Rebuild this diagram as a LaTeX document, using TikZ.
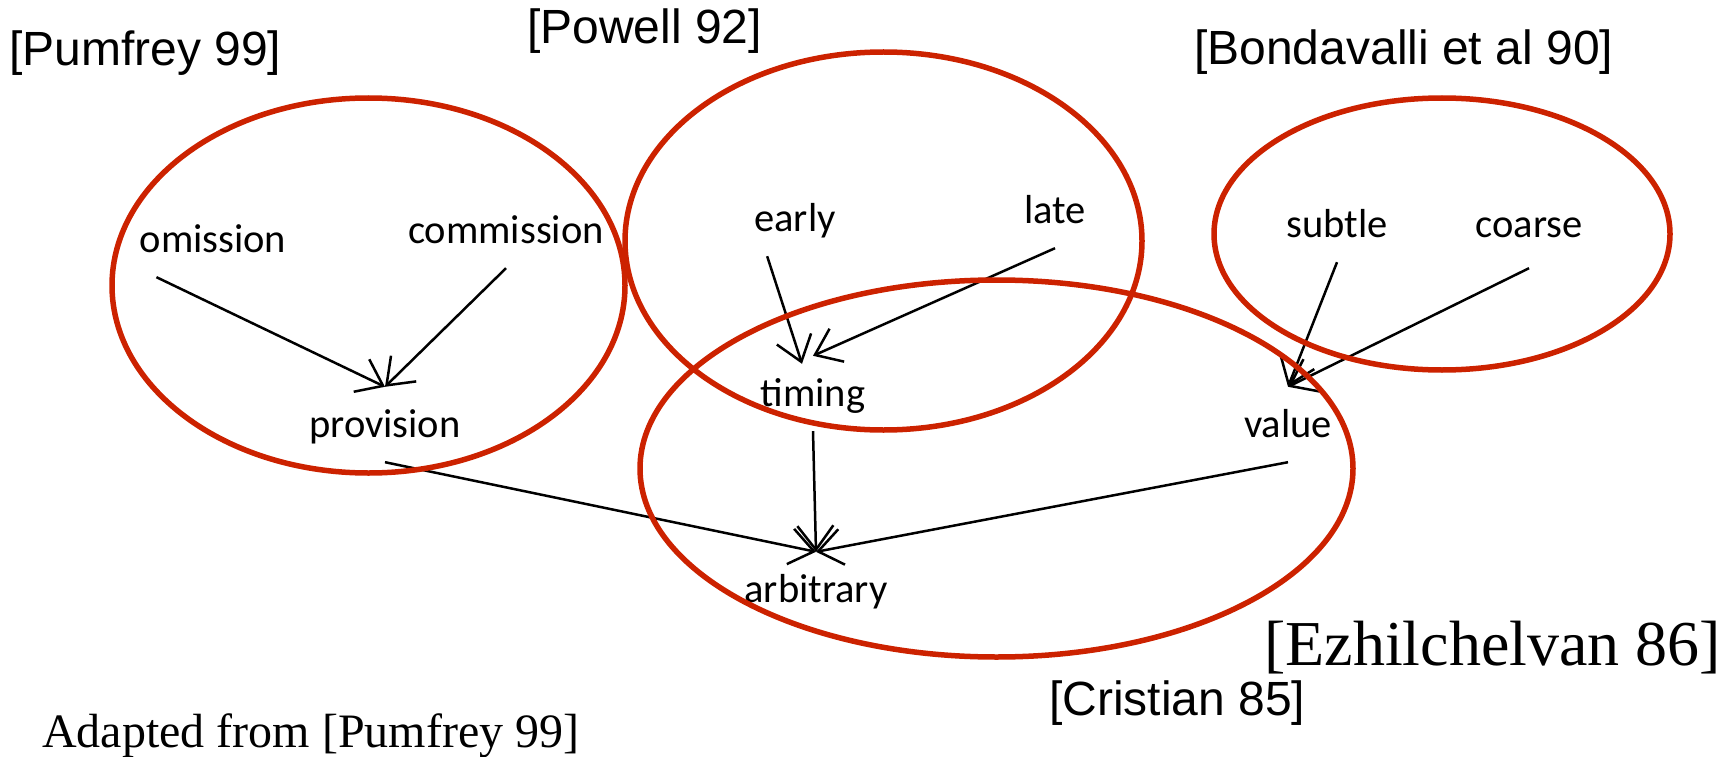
\documentclass[tikz,border=0pt]{standalone}
\usepackage{fontspec}
\usetikzlibrary{arrows.meta}
\newfontfamily\termfont{Carlito}
\newfontfamily\citefont{Liberation Sans}
\newfontfamily\notefont{Liberation Serif}
\definecolor{ringred}{RGB}{204,34,0}

\begin{document}
\begin{tikzpicture}[x=1pt,y=-1pt,
  term/.style={anchor=base,inner sep=0pt,inner ysep=15pt,text height=35pt,text depth=10pt,
    font=\termfont\fontsize{40.5}{48}\selectfont},
  cite/.style={anchor=base west,inner sep=0pt,font=\citefont\fontsize{48}{56}\selectfont},
  refines/.style={draw,line width=2.5pt,-{Straight Barb[length=24pt,width=36pt]}},
  ring/.style={draw=ringred,line width=5.5pt}]
  \useasboundingbox (0,0) rectangle (1732,757);

  %failure classes
  \node[term] (omission) at (213,252) {omission};
  \node[term] (commission) at (506,243) {commission};
  \node[term] (provision) at (385,437) {provision};
  \node[term] (early) at (795,231) {early};
  \node[term] (late) at (1055,223) {late};
  \node[term] (timing) at (813,406) {timing};
  \node[term] (subtle) at (1337,237) {subtle};
  \node[term] (coarse) at (1529,237) {coarse};
  \node[term] (value) at (1288,437) {value};
  \node[term] (arbitrary) at (816,602) {arbitrary};

  %refinement arrows
  \draw[refines] ([xshift=17pt]omission.south west) -- (provision.north);
  \draw[refines] (commission.south) -- (provision.north);
  \draw[refines] ([xshift=13pt]early.south west) -- ([xshift=-11pt,yshift=-8pt]timing.north);
  \draw[refines] (late.south) -- (timing.north);
  \draw[refines] (subtle.south) -- (value.north);
  \draw[refines] ([yshift=-6pt]coarse.south) -- (value.north);
  \draw[refines] (provision.south) -- (arbitrary.north);
  \draw[refines] (timing.south) -- (arbitrary.north);
  \draw[refines] (value.south) -- (arbitrary.north);

  %groupings
  \draw[ring] (368.5,285.5) ellipse [x radius=256.5, y radius=187.5];
  \draw[ring] (883.5,241) ellipse [x radius=258.5, y radius=189];
  \draw[ring] (1442,234) ellipse [x radius=228, y radius=136];
  \draw[ring] (996.5,468.5) ellipse [x radius=356.5, y radius=188.5];

  %citations
  \node[cite] (pumfrey) at (9,66) {[Pumfrey 99]};
  \node[cite] (powell) at (527,44) {[Powell 92]};
  \node[cite] (bondavalli) at (1194,65) {[Bondavalli et al 90]};
  \node[cite] (cristian) at (1049,715) {[Cristian 85]};
  \node[anchor=base west,inner sep=0pt,font=\notefont\fontsize{64}{72}\selectfont]
    (ezhilchelvan) at (1264,665) {[Ezhilchelvan 86]};
  \node[anchor=base west,inner sep=0pt,font=\notefont\fontsize{48}{56}\selectfont]
    (adapted) at (42,747) {Adapted from [Pumfrey 99]};
\end{tikzpicture}
\end{document}
